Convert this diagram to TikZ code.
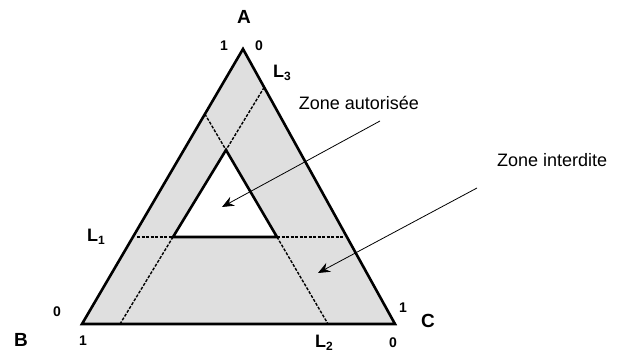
\documentclass[tikz,border=0pt]{standalone}
\usepackage{fontspec}
\setmainfont{Liberation Sans}
\usetikzlibrary{arrows.meta}
\newcommand{\Lsub}[1]{L\raisebox{-2.5pt}{\fontsize{12}{14}\selectfont #1}}
\begin{document}
\begin{tikzpicture}[x=1pt,y=-1pt,
  edge/.style={line width=2.6pt,line join=miter},
  dline/.style={line width=1.4pt,dash pattern=on 3pt off 1.5pt},
  lbl/.style={font=\fontsize{19}{22}\selectfont\bfseries,inner sep=0pt},
  lname/.style={font=\fontsize{18}{21}\selectfont\bfseries,inner sep=0pt},
  num/.style={font=\fontsize{14}{16}\selectfont\bfseries,inner sep=0pt},
  zone/.style={font=\fontsize{18}{21}\selectfont,inner sep=0pt},
  ptr/.style={line width=0.8pt,-{Stealth[length=12pt,width=10pt,inset=4pt]}}]
\useasboundingbox (0,0) rectangle (641,355);
% outer triangle
\coordinate (A) at (243,49);
\coordinate (B) at (82,324);
\coordinate (C) at (395,324);
% inner triangle
\coordinate (I) at (226,150);
\coordinate (IL) at (173,237);
\coordinate (IR) at (277,237);
\fill[gray!25] (A) -- (B) -- (C) -- cycle;
\fill[white] (I) -- (IL) -- (IR) -- cycle;
% dashed lines
\coordinate (p1) at (intersection of A--B and I--IR);
\coordinate (p2) at (intersection of B--C and I--IR);
\coordinate (p3) at (intersection of A--C and I--IL);
\coordinate (p4) at (intersection of B--C and I--IL);
\coordinate (h1) at (137,237);
\coordinate (h2) at (343,237);
\draw[dline] (p1) -- (I);
\draw[dline] (IR) -- (p2);
\draw[dline] (p3) -- (I);
\draw[dline] (IL) -- (p4);
\draw[dline] (h1) -- (IL);
\draw[dline] (IR) -- (h2);
\draw[edge] (I) -- (IL) -- (IR) -- cycle;
\draw[edge] (A) -- (B) -- (C) -- cycle;
% labels
\node[lbl] (lA) at (244,17) {A};
\node[lbl] (lB) at (21,340) {B};
\node[lbl] (lC) at (428,321) {C};
\node[num] (a1) at (224,46) {1};
\node[num] (a0) at (259,46) {0};
\node[num] (b0) at (57,312) {0};
\node[num] (b1) at (83,341) {1};
\node[num] (c1) at (403,308) {1};
\node[num] (c0) at (393,343) {0};
\node[lname] (L3) at (282,73) {\Lsub{3}};
\node[lname] (L1) at (96,237) {\Lsub{1}};
\node[lname] (L2) at (324,343) {\Lsub{2}};
% zones
\node[zone] (za) at (359,103) {Zone autorisée};
\node[zone,anchor=west] (zi) at (497,160) {Zone interdite};
\coordinate (sa) at (380,121);
\coordinate (ta) at (222,207);
\coordinate (si) at (477,188);
\coordinate (ti) at (318,273);
\draw[ptr] (sa) -- (ta);
\draw[ptr] (si) -- (ti);
\end{tikzpicture}
\end{document}
